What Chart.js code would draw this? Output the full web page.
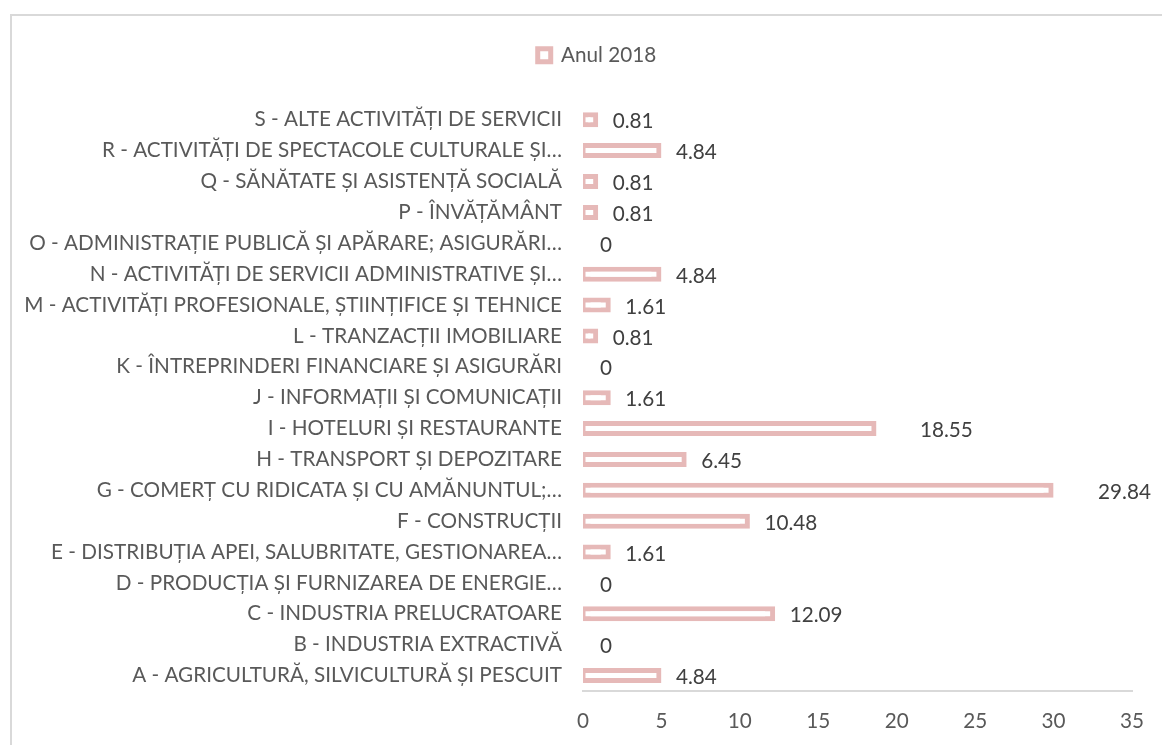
<!DOCTYPE html>
<html>
<head>
<meta charset="utf-8">
<script src="https://cdn.jsdelivr.net/npm/chart.js@4/dist/chart.umd.min.js"></script>
<style>
  html, body { margin: 0; padding: 0; width: 1162px; height: 745px; overflow: hidden; background: #fff; }
  #frame { position: absolute; left: 10px; top: 14px; width: 1200px; height: 800px; border: 2px solid #d9d9d9; box-sizing: border-box; }
  #wrap { position: absolute; left: 0; top: 0; width: 1162px; height: 745px; }
</style>
</head>
<body>
<div id="frame"></div>
<div id="wrap"><canvas id="c"></canvas></div>
<script>
// ---- data (bottom to top as in the picture: A ... S) ----
const categories = [
  "A - AGRICULTURĂ, SILVICULTURĂ ȘI PESCUIT",
  "B - INDUSTRIA EXTRACTIVĂ",
  "C - INDUSTRIA PRELUCRATOARE",
  "D - PRODUCȚIA ȘI FURNIZAREA DE ENERGIE…",
  "E - DISTRIBUȚIA APEI, SALUBRITATE, GESTIONAREA…",
  "F - CONSTRUCȚII",
  "G - COMERȚ CU RIDICATA ȘI CU AMĂNUNTUL;…",
  "H - TRANSPORT ȘI DEPOZITARE",
  "I - HOTELURI ȘI RESTAURANTE",
  "J - INFORMAȚII ȘI COMUNICAȚII",
  "K - ÎNTREPRINDERI FINANCIARE ȘI ASIGURĂRI",
  "L - TRANZACȚII IMOBILIARE",
  "M - ACTIVITĂȚI PROFESIONALE, ȘTIINȚIFICE ȘI TEHNICE",
  "N - ACTIVITĂȚI DE SERVICII ADMINISTRATIVE ȘI…",
  "O - ADMINISTRAȚIE PUBLICĂ ȘI APĂRARE; ASIGURĂRI…",
  "P - ÎNVĂȚĂMÂNT",
  "Q - SĂNĂTATE ȘI ASISTENȚĂ SOCIALĂ",
  "R - ACTIVITĂȚI DE SPECTACOLE CULTURALE ȘI…",
  "S - ALTE ACTIVITĂȚI DE SERVICII"
];
const values2018 = [4.84, 0, 12.09, 0, 1.61, 10.48, 29.84, 6.45, 18.55, 1.61, 0, 0.81, 1.61, 4.84, 0, 0.81, 0.81, 4.84, 0.81];
const seriesName = "Anul 2018";
const xTicks = [0, 5, 10, 15, 20, 25, 30, 35];

// ---- font sizing to mimic the reference text width ----
const FAMILY = "Lato, 'Noto Sans', sans-serif";
const mctx = document.createElement('canvas').getContext('2d');
mctx.font = "100px " + FAMILY;
const refW = mctx.measureText("S - ALTE ACTIVITĂȚI DE SERVICII").width;
const FS = Math.round(100 * 307 / refW * 10) / 10;

const PINK = '#E6B9B8';
const GRAY = '#595959';

// label placement (style only): extra gap for labels moved further out in the picture
const LABEL_GAP = 17;
const LABEL_EXTRA = { 6: 30, 8: 29 };

const dataLabels = {
  id: 'dataLabels',
  afterDatasetsDraw(chart) {
    const ctx = chart.ctx;
    const meta = chart.getDatasetMeta(0);
    ctx.save();
    ctx.font = FS + "px " + FAMILY;
    ctx.fillStyle = '#404040';
    ctx.textAlign = 'left';
    ctx.textBaseline = 'middle';
    meta.data.forEach((el, i) => {
      const v = chart.data.datasets[0].data[i];
      ctx.fillText(String(v), el.x + LABEL_GAP + (LABEL_EXTRA[i] || 0), el.y + 2);
    });
    ctx.restore();
  }
};

const legendShift = {
  id: 'legendShift',
  afterLayout(chart) {
    const lg = chart.legend;
    if (!lg) return;
    const d = 597 - (lg.left + lg.right) / 2;
    lg.left += d; lg.right += d;
  }
};

new Chart(document.getElementById('c'), {
  type: 'bar',
  data: {
    labels: categories,
    datasets: [{
      label: seriesName,
      data: values2018,
      backgroundColor: '#ffffff',
      borderColor: PINK,
      borderWidth: 5,
      borderSkipped: false,
      inflateAmount: 2.5,
      barThickness: 10,
      xAxisID: 'x'
    }]
  },
  options: {
    indexAxis: 'y',
    responsive: true,
    maintainAspectRatio: false,
    animation: false,
    layout: { padding: { left: 0, right: 27, top: 35, bottom: 0 } },
    plugins: {
      legend: {
        display: true,
        position: 'top',
        labels: {
          color: GRAY,
          font: { family: FAMILY, size: FS },
          boxWidth: 13,
          boxHeight: 13,
          padding: 10
        }
      },
      tooltip: { enabled: false }
    },
    scales: {
      x: {
        type: 'linear',
        position: 'bottom',
        min: 0, max: 35,
        afterBuildTicks(scale) { scale.ticks = xTicks.map(v => ({ value: v })); },
        grid: { display: false, drawTicks: false },
        border: { display: true, color: '#d9d9d9', width: 2 },
        ticks: { color: GRAY, font: { family: FAMILY, size: FS }, padding: 18 },
        afterFit(scale) { scale.height = 54; }
      },
      xSpacer: {
        type: 'linear',
        position: 'top',
        min: 0, max: 35,
        grid: { display: false, drawTicks: false },
        border: { display: false },
        ticks: { display: false },
        afterFit(scale) { scale.height = 28.6; }
      },
      y: {
        reverse: true,
        grid: { display: false, drawTicks: false },
        border: { display: false },
        ticks: { color: GRAY, font: { family: FAMILY, size: FS }, padding: 21, autoSkip: false },
        afterFit(scale) { scale.width = 583; }
      }
    }
  },
  plugins: [dataLabels, legendShift]
});
</script>
</body>
</html>
